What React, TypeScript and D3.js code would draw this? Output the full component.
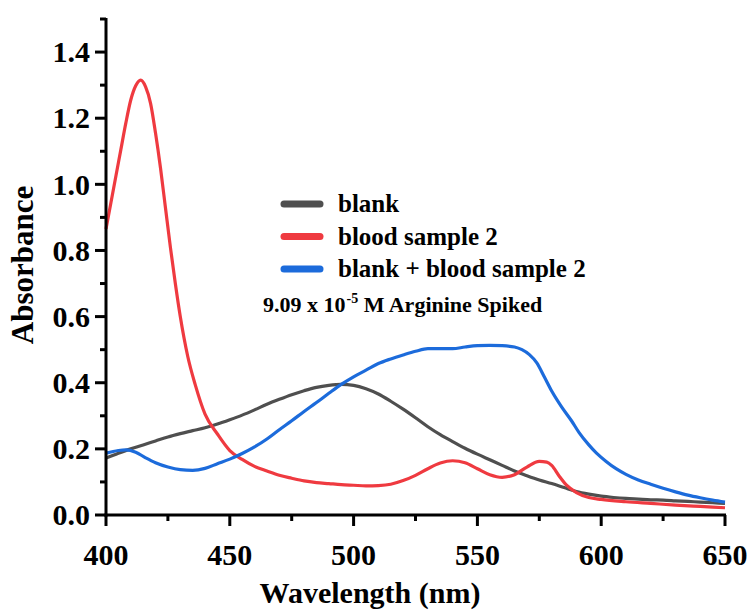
import React from "react";
import * as d3 from "d3";

const W = 751;
const H = 614;

const blankWl = [400,405,410,415,420,425,430,435,440,445,450,455,460,465,470,475,480,485,490,495,500,505,510,515,520,525,530,535,540,545,550,555,560,565,570,575,580,585,590,595,600,605,610,615,620,625,630,635,640,645,650];
const blankAbs = [0.172,0.187,0.200,0.212,0.224,0.236,0.246,0.255,0.264,0.275,0.288,0.302,0.318,0.335,0.350,0.364,0.376,0.386,0.392,0.395,0.392,0.382,0.366,0.344,0.320,0.294,0.267,0.243,0.222,0.202,0.184,0.167,0.150,0.133,0.119,0.106,0.095,0.083,0.071,0.063,0.057,0.053,0.050,0.048,0.046,0.045,0.043,0.041,0.039,0.037,0.035];

const bloodWl = [400,402,404,406,408,410,412,414,416,418,420,422,424,426,428,430,433,436,440,445,450,455,460,465,470,475,480,485,490,495,500,505,510,515,520,525,530,535,540,545,550,555,560,565,570,575,578,580,583,586,590,595,600,610,620,630,640,650];
const bloodAbs = [0.865,0.945,1.025,1.105,1.185,1.255,1.298,1.315,1.295,1.245,1.155,1.050,0.930,0.810,0.700,0.600,0.480,0.395,0.305,0.245,0.195,0.168,0.147,0.133,0.120,0.111,0.103,0.098,0.095,0.092,0.090,0.088,0.089,0.093,0.104,0.120,0.140,0.157,0.164,0.158,0.140,0.122,0.114,0.122,0.145,0.162,0.160,0.150,0.118,0.090,0.068,0.053,0.047,0.040,0.035,0.030,0.026,0.022];

const mixWl = [400,405,408,412,416,420,425,430,435,440,445,450,455,460,465,470,475,480,485,490,495,500,505,510,515,520,525,530,535,540,545,550,555,560,565,568,571,574,577,580,584,588,591,595,598,602,606,610,615,620,625,630,635,640,645,650];
const mixAbs = [0.187,0.195,0.197,0.190,0.173,0.158,0.145,0.137,0.135,0.141,0.155,0.169,0.186,0.206,0.230,0.258,0.285,0.313,0.340,0.368,0.395,0.418,0.438,0.458,0.472,0.484,0.495,0.503,0.503,0.503,0.508,0.512,0.513,0.512,0.508,0.500,0.485,0.460,0.418,0.375,0.327,0.285,0.250,0.212,0.188,0.162,0.140,0.123,0.106,0.093,0.081,0.070,0.060,0.052,0.045,0.039];

const xTicks = [400,450,500,550,600,650];
const xMinor = [425,475,525,575,625];
const yTicks = [0,0.2,0.4,0.6,0.8,1.0,1.2,1.4];
const yMinor = [0.1,0.3,0.5,0.7,0.9,1.1,1.3,1.5];

const seriesNames = ["blank","blood sample 2","blank + blood sample 2"];
const seriesColors = ["#4f4f4f","#ef3a40","#1c6bdb"];

const FONT = "'Liberation Serif','Times New Roman',serif";

export default function App() {
  const x = d3.scaleLinear().domain([400,650]).range([106,725]);
  const y = d3.scaleLinear().domain([0,1.5]).range([515,19]);
  const line = d3.line<[number,number]>().x(d=>x(d[0])).y(d=>y(d[1])).curve(d3.curveMonotoneX);
  const series = [
    blankWl.map((w,i)=>[w,blankAbs[i]] as [number,number]),
    bloodWl.map((w,i)=>[w,bloodAbs[i]] as [number,number]),
    mixWl.map((w,i)=>[w,mixAbs[i]] as [number,number]),
  ];
  const x0 = x(400), y0 = y(0);
  return (
    <svg width={W} height={H} style={{display:"block",position:"absolute",left:0,top:0,background:"#fff"}} fontFamily={FONT} fontWeight="bold">
      <rect width={W} height={H} fill="#fff"/>
      {series.map((s,i)=>(
        <path key={i} d={line(s) || ""} fill="none" stroke={seriesColors[i]} strokeWidth={3.2} strokeLinejoin="round"/>
      ))}
      <line x1={x0} x2={x0} y1={y(1.5)-1} y2={y0+1.5} stroke="#000" strokeWidth={3}/>
      <line x1={x0-1.5} x2={x(650)+1} y1={y0} y2={y0} stroke="#000" strokeWidth={3}/>
      {xTicks.map(t=>(
        <g key={"xt"+t}>
          <line x1={x(t)} x2={x(t)} y1={y0} y2={y0+11} stroke="#000" strokeWidth={3}/>
          <text x={x(t)} y={565} textAnchor="middle" fontSize={30}>{t}</text>
        </g>
      ))}
      {xMinor.map(t=>(
        <line key={"xm"+t} x1={x(t)} x2={x(t)} y1={y0} y2={y0+6} stroke="#000" strokeWidth={3}/>
      ))}
      {yTicks.map(t=>(
        <g key={"yt"+t}>
          <line x1={x0-11} x2={x0} y1={y(t)} y2={y(t)} stroke="#000" strokeWidth={3}/>
          <text x={90} y={y(t)} dy="0.34em" textAnchor="end" fontSize={30}>{t.toFixed(1)}</text>
        </g>
      ))}
      {yMinor.map(t=>(
        <line key={"ym"+t} x1={x0-6} x2={x0} y1={y(t)} y2={y(t)} stroke="#000" strokeWidth={3}/>
      ))}
      <text x={370} y={603} textAnchor="middle" fontSize={30}>Wavelength (nm)</text>
      <text transform="translate(33,265) rotate(-90)" textAnchor="middle" fontSize={31}>Absorbance</text>
      {seriesNames.map((n,i)=>(
        <g key={n}>
          <line x1={284} x2={320} y1={204+i*32.5} y2={204+i*32.5} stroke={seriesColors[i]} strokeWidth={7} strokeLinecap="round"/>
          <text x={338} y={204+i*32.5+8} fontSize={25}>{n}</text>
        </g>
      ))}
      <text x={263} y={312} fontSize={22}>9.09 x 10<tspan dx={1} dy={-9} fontSize={14}>-5</tspan><tspan dy={9}> M Arginine Spiked</tspan></text>
    </svg>
  );
}
